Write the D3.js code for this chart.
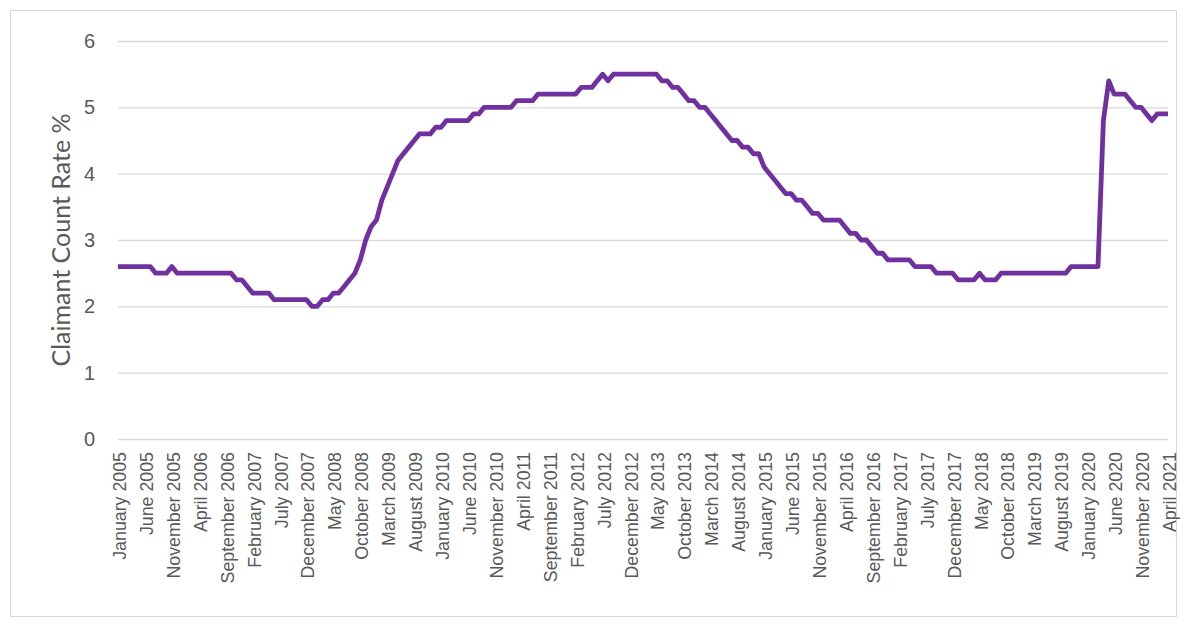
<!DOCTYPE html>
<html>
<head>
<meta charset="utf-8">
<script src="https://cdn.jsdelivr.net/npm/d3@7"></script>
<style>
  body { margin: 0; background: #fff; }
  svg { font-family: Lato, "Open Sans", sans-serif; }
</style>
</head>
<body>
<div id="chart"></div>
<script>
// claimant count rate %, monthly January 2005 .. April 2021
var rate = [
  2.6,2.6,2.6,2.6,2.6,2.6,2.6,2.5,2.5,2.5,
  2.6,2.5,2.5,2.5,2.5,2.5,2.5,2.5,2.5,2.5,
  2.5,2.5,2.4,2.4,2.3,2.2,2.2,2.2,2.2,2.1,
  2.1,2.1,2.1,2.1,2.1,2.1,2.0,2.0,2.1,2.1,
  2.2,2.2,2.3,2.4,2.5,2.7,3.0,3.2,3.3,3.6,
  3.8,4.0,4.2,4.3,4.4,4.5,4.6,4.6,4.6,4.7,
  4.7,4.8,4.8,4.8,4.8,4.8,4.9,4.9,5.0,5.0,
  5.0,5.0,5.0,5.0,5.1,5.1,5.1,5.1,5.2,5.2,
  5.2,5.2,5.2,5.2,5.2,5.2,5.3,5.3,5.3,5.4,
  5.5,5.4,5.5,5.5,5.5,5.5,5.5,5.5,5.5,5.5,
  5.5,5.4,5.4,5.3,5.3,5.2,5.1,5.1,5.0,5.0,
  4.9,4.8,4.7,4.6,4.5,4.5,4.4,4.4,4.3,4.3,
  4.1,4.0,3.9,3.8,3.7,3.7,3.6,3.6,3.5,3.4,
  3.4,3.3,3.3,3.3,3.3,3.2,3.1,3.1,3.0,3.0,
  2.9,2.8,2.8,2.7,2.7,2.7,2.7,2.7,2.6,2.6,
  2.6,2.6,2.5,2.5,2.5,2.5,2.4,2.4,2.4,2.4,
  2.5,2.4,2.4,2.4,2.5,2.5,2.5,2.5,2.5,2.5,
  2.5,2.5,2.5,2.5,2.5,2.5,2.5,2.6,2.6,2.6,
  2.6,2.6,2.6,4.8,5.4,5.2,5.2,5.2,5.1,5.0,
  5.0,4.9,4.8,4.9,4.9,4.9
];

var monthNames = ["January","February","March","April","May","June","July",
  "August","September","October","November","December"];

// category for every month in the series
var months = d3.timeMonth.range(new Date(2005, 0, 1), new Date(2021, 4, 1))
  .map(d => monthNames[d.getMonth()] + " " + d.getFullYear());

var tickLabels = [
  "January 2005","June 2005","November 2005","April 2006","September 2006",
  "February 2007","July 2007","December 2007","May 2008","October 2008",
  "March 2009","August 2009","January 2010","June 2010","November 2010",
  "April 2011","September 2011","February 2012","July 2012","December 2012",
  "May 2013","October 2013","March 2014","August 2014","January 2015",
  "June 2015","November 2015","April 2016","September 2016","February 2017",
  "July 2017","December 2017","May 2018","October 2018","March 2019",
  "August 2019","January 2020","June 2020","November 2020","April 2021"
];

var yTicks = [0, 1, 2, 3, 4, 5, 6];

var data = months.map((m, i) => ({ month: m, value: rate[i] }));

var width = 1184, height = 626;
var plotLeft = 118, plotRight = 1168, plotTop = 41, plotBottom = 439;

var svg = d3.select("#chart")
  .append("svg")
  .attr("width", width)
  .attr("height", height);

// chart frame
svg.append("rect")
  .attr("x", 10.5).attr("y", 10.5)
  .attr("width", 1166).attr("height", 606)
  .attr("fill", "#fff")
  .attr("stroke", "#d9d9d9");

/* Scales */
var x = d3.scalePoint()
  .domain(months)
  .range([plotLeft, plotRight]);

var y = d3.scaleLinear()
  .domain([0, 6])
  .range([plotBottom, plotTop]);

/* Gridlines + y axis */
var yAxis = d3.axisLeft(y)
  .tickValues(yTicks)
  .tickSize(-(plotRight - plotLeft))
  .tickPadding(23)
  .tickFormat(d3.format("d"));

svg.append("g")
  .attr("class", "y axis")
  .attr("transform", `translate(${plotLeft}, 0)`)
  .call(yAxis)
  .call(g => g.select(".domain").remove())
  .call(g => g.selectAll(".tick line").attr("stroke", "#d9d9d9").attr("stroke-width", 1.3))
  .call(g => g.selectAll(".tick text")
    .attr("fill", "#595959")
    .attr("font-size", "20px"));

/* x axis */
var xAxis = d3.axisBottom(x)
  .tickValues(tickLabels)
  .tickSize(0);

svg.append("g")
  .attr("class", "x axis")
  .attr("transform", `translate(0, ${plotBottom})`)
  .call(xAxis)
  .call(g => g.select(".domain").remove())
  .call(g => g.selectAll(".tick text")
    .attr("fill", "#595959")
    .attr("font-size", "17.8px")
    .attr("text-anchor", "end")
    .attr("transform", "rotate(-90)")
    .attr("x", -13)
    .attr("y", 0)
    .attr("dy", "0.42em"));

/* y axis title */
svg.append("text")
  .attr("transform", `translate(70, ${(plotTop + plotBottom) / 2}) rotate(-90)`)
  .attr("text-anchor", "middle")
  .attr("fill", "#595959")
  .attr("font-size", "25px")
  .text("Claimant Count Rate %");

/* line */
svg.append("path")
  .datum(data)
  .attr("fill", "none")
  .attr("stroke", "#7030a0")
  .attr("stroke-width", 4.8)
  .attr("stroke-linejoin", "round")
  .attr("d", d3.line()
    .x(d => x(d.month))
    .y(d => y(d.value)));
</script>
</body>
</html>
